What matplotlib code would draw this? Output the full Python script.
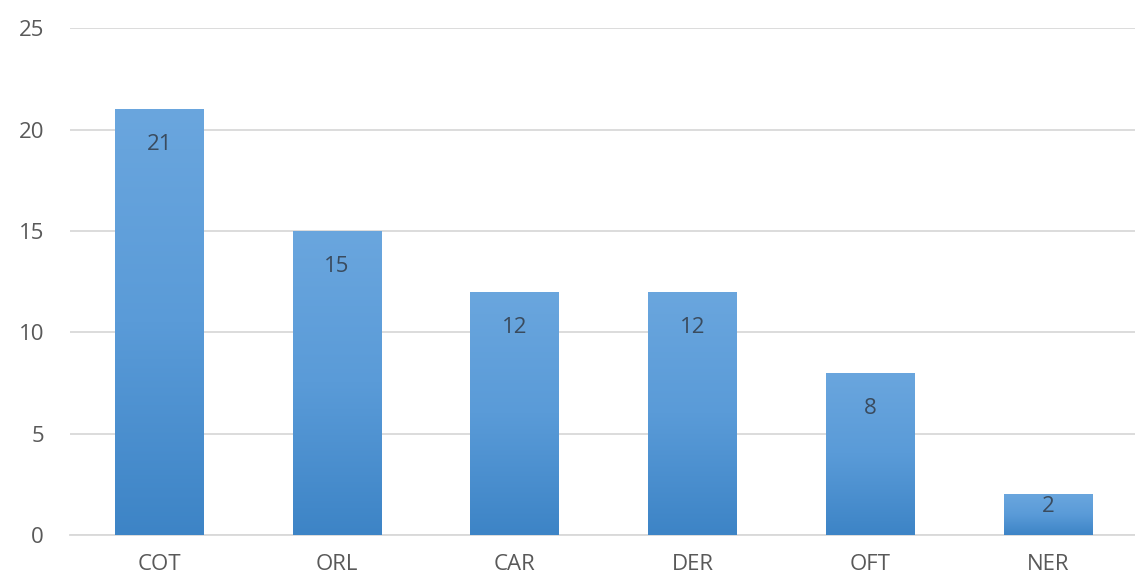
import matplotlib.pyplot as plt
import numpy as np
from matplotlib.colors import LinearSegmentedColormap

categories = ['COT', 'ORL', 'CAR', 'DER', 'OFT', 'NER']
values = [21, 15, 12, 12, 8, 2]
yticks = [0, 5, 10, 15, 20, 25]

plt.rcParams['font.family'] = ['Open Sans', 'DejaVu Sans']

fig = plt.figure(figsize=(11.35, 5.86), dpi=100)
ax = fig.add_axes([0.062, 0.087, 0.94, 0.865])

x = np.arange(len(categories))
bars = ax.bar(x, values, width=0.5, color='none', edgecolor='none', zorder=3)

# vertical gradient, light on top, darker at bottom
cmap = LinearSegmentedColormap.from_list('blu', ['#3d84c6', '#5a9bd8', '#6aa6de'])
grad = np.linspace(0, 1, 256).reshape(-1, 1)
for b in bars:
    x0, y0 = b.get_x(), b.get_y()
    w, h = b.get_width(), b.get_height()
    im = ax.imshow(grad, extent=[x0, x0 + w, y0, y0 + h], origin='lower',
                   cmap=cmap, aspect='auto', zorder=3)
    im.set_clip_path(b)

for xi, v in zip(x, values):
    ax.text(xi, max(v - 1.75, v * 0.7), str(v), ha='center', va='center',
            fontsize=16, color='#3a4b5e', zorder=4)

ax.set_xlim(-0.5, 5.5)
ax.set_ylim(0, 25)
ax.set_yticks(yticks)
ax.set_xticks(x)
ax.set_xticklabels(categories)
ax.grid(axis='y', color='#d9d9d9', linewidth=1.3, zorder=0)
ax.tick_params(length=0, labelsize=16, colors='#595959')
ax.tick_params(axis='x', pad=14)
ax.tick_params(axis='y', pad=19)
for s in ax.spines.values():
    s.set_visible(False)
ax.spines['bottom'].set_visible(True)
ax.spines['bottom'].set_color('#d9d9d9')
ax.spines['bottom'].set_linewidth(1.3)

fig.savefig('out.png', dpi=100)
